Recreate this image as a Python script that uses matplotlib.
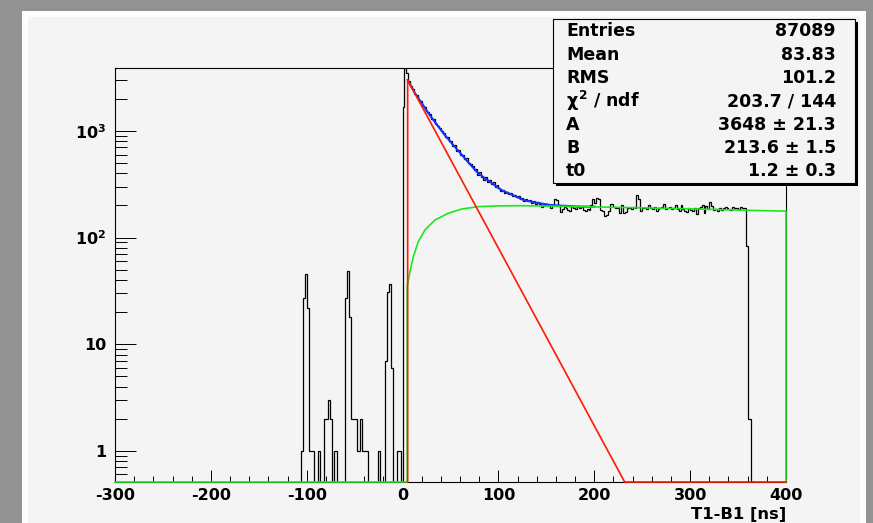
import numpy as np
import matplotlib.pyplot as plt
from matplotlib.patches import Rectangle
from matplotlib.ticker import FixedLocator, MultipleLocator, LogLocator, NullFormatter

plt.rcParams['font.family'] = ['DejaVu Sans']
plt.rcParams['font.weight'] = 'bold'
plt.rcParams['axes.unicode_minus'] = False
plt.rcParams['mathtext.fontset'] = 'custom'
plt.rcParams['mathtext.rm'] = 'DejaVu Sans:bold'
plt.rcParams['mathtext.it'] = 'DejaVu Sans'
plt.rcParams['mathtext.bf'] = 'DejaVu Sans:bold'

# histogram T1-B1, 2 ns bins from -300 to 400
bin_width = 2
x_lo, x_hi = -300, 400

# bins from -106 to 0 (small peaks before the main one)
counts_pre = [1, 27, 46, 22, 1, 1, 1, 0, 0, 1,
              0, 0, 2, 2, 3, 2, 0, 1, 1, 0,
              0, 0, 0, 27, 49, 18, 2, 2, 2, 1,
              1, 2, 1, 1, 1, 0, 0, 0, 0, 0,
              1, 0, 0, 0, 7, 31, 37, 6, 0, 0,
              1, 1, 0]
# bins from 0 to 100 (peak and decay)
counts_decay = [1690, 3850, 3460, 2950, 2640, 2480, 2230, 2150, 1940, 1900,
                1720, 1690, 1530, 1510, 1440, 1290, 1280, 1150, 1120, 1070,
                990, 960, 880, 870, 800, 810, 720, 730, 650, 660,
                600, 590, 540, 560, 500, 490, 470, 430, 440, 390,
                410, 370, 350, 370, 330, 345, 315, 330, 300, 310]
# bins from 100 to 364 (flat part and end)
counts_flat = [292, 275, 280, 262, 270, 255, 262, 245, 250, 240,
               244, 230, 236, 222, 230, 218, 226, 212, 220, 208,
               214, 205, 192, 207, 200, 205, 196, 190, 202, 228,
               226, 198, 175, 186, 194, 188, 180, 178, 196, 190,
               184, 196, 188, 192, 180, 178, 186, 180, 200, 232,
               210, 235, 232, 180, 176, 159, 162, 176, 207, 205,
               195, 190, 188, 170, 200, 170, 174, 190, 188, 186,
               192, 190, 250, 228, 176, 188, 190, 186, 200, 188,
               186, 195, 177, 184, 190, 192, 207, 185, 188, 192,
               184, 190, 200, 185, 178, 200, 186, 178, 172, 188,
               182, 178, 190, 168, 188, 194, 200, 170, 196, 186,
               217, 196, 180, 186, 178, 188, 180, 188, 194, 190,
               184, 182, 192, 188, 190, 186, 194, 188, 190, 83,
               2, 2]

# fit components (0 = below the axis)
red_t = [5.3, 5.3, 231.7, 400]
red_v = [0, 3000, 0.51, 0]
green_t = [-300, 4.9, 4.9, 7.7, 11.2, 16.4, 23.4, 33.8, 47.7, 61.6,
           79, 100, 124, 185, 250, 300, 360, 400, 400]
green_v = [0, 0, 34.8, 48, 66, 91.5, 118, 146, 169, 185,
           195, 198, 199, 195, 190, 186, 180, 177, 0]
blue_t = [5.3, 13, 20, 27, 35, 44, 53, 62, 70, 79, 91, 103, 115, 126, 140, 154, 170, 185, 200]
blue_v = [3000, 2250, 1820, 1462, 1170, 915, 735, 594, 490, 400, 334, 279, 250, 225, 212, 202, 198, 195, 195]

stats_labels = ['Entries', 'Mean', 'RMS', r'$\chi^{2}$ / ndf', 'A', 'B', 't0']
stats_values = ['87089', '83.83', '101.2', '203.7 / 144', '3648 \u00b1 21.3', '213.6 \u00b1 1.5', '1.2 \u00b1 0.3']

y_lo, y_hi = 0.51, 3890

W, H = 873, 523


def fx(x):
    return x / W


def fy(y):
    return 1 - y / H


bg = '#f4f4f4'
fig = plt.figure(figsize=(W / 100, H / 100), dpi=100)
fig.patch.set_facecolor('#929292')
fig.add_artist(Rectangle((fx(22), 0), fx(866) - fx(22), fy(11), transform=fig.transFigure,
                         facecolor='#fdfdfd', edgecolor='none', zorder=-10))
fig.add_artist(Rectangle((fx(28), 0), fx(860) - fx(28), fy(17), transform=fig.transFigure,
                         facecolor=bg, edgecolor='none', zorder=-9))

ax = fig.add_axes([fx(115), fy(482), fx(786) - fx(115), fy(68) - fy(482)])
ax.set_facecolor(bg)

edges = np.arange(x_lo, x_hi + bin_width, bin_width)
n_lead = (-106 - x_lo) // bin_width
n_tail = (x_hi - 364) // bin_width
counts = np.concatenate([np.zeros(n_lead), counts_pre, counts_decay, counts_flat, np.zeros(n_tail)])
ax.stairs(np.where(counts > 0, counts, 1e-3), edges, baseline=None, color='black', lw=0.9, zorder=2)

ax.plot(blue_t, blue_v, color='#1432ff', lw=1.5, zorder=3)
ax.plot(red_t, np.maximum(red_v, y_lo), color='#ff1a00', lw=1.2, zorder=3.2, clip_on=False)
ax.plot(green_t, np.maximum(green_v, y_lo), color='#1ee61e', lw=1.2, zorder=3.1, clip_on=False)

ax.set_yscale('log')
ax.set_xlim(x_lo, x_hi)
ax.set_ylim(y_lo, y_hi)

for s in ax.spines.values():
    s.set_linewidth(0.8)

ax.xaxis.set_major_locator(MultipleLocator(100))
ax.xaxis.set_minor_locator(MultipleLocator(20))
ax.tick_params(axis='x', which='major', direction='in', length=8.6, width=0.7, labelsize=11.5, pad=4)
ax.tick_params(axis='x', which='minor', direction='in', length=4.3, width=0.7)
ax.yaxis.set_major_locator(FixedLocator([1, 10, 100, 1000]))
ax.set_yticklabels(['1', '10', r'$10^{2}$', r'$10^{3}$'])
ax.yaxis.set_minor_locator(LogLocator(base=10, subs=range(2, 10)))
ax.yaxis.set_minor_formatter(NullFormatter())
ax.tick_params(axis='y', which='major', direction='in', length=15, width=0.7, labelsize=11.5, pad=6)
ax.tick_params(axis='y', which='minor', direction='in', length=8.4, width=0.7)
for lab in ax.get_xticklabels() + ax.get_yticklabels():
    lab.set_fontweight('bold')

fig.text(fx(786), fy(515), 'T1-B1 [ns]', ha='right', va='center', fontsize=11.8, fontweight='bold')

# stats box with shadow
bx0, by0, bx1, by1 = 553, 19, 855, 183
fig.add_artist(Rectangle((fx(bx0 + 3), fy(by1 + 3)), fx(bx1) - fx(bx0), fy(by0) - fy(by1),
                         transform=fig.transFigure, facecolor='black', edgecolor='none', zorder=10))
fig.add_artist(Rectangle((fx(bx0), fy(by1)), fx(bx1) - fx(bx0), fy(by0) - fy(by1),
                         transform=fig.transFigure, facecolor=bg, edgecolor='black', lw=0.8, zorder=11))
for i, (lab, val) in enumerate(zip(stats_labels, stats_values)):
    yc = 31.5 + i * 23.3
    fig.text(fx(566), fy(yc), lab, ha='left', va='center', fontsize=12.5, fontweight='bold', zorder=12)
    fig.text(fx(836), fy(yc), val, ha='right', va='center', fontsize=12.5, fontweight='bold', zorder=12)

fig.savefig('out.png', dpi=100, facecolor=fig.get_facecolor())
